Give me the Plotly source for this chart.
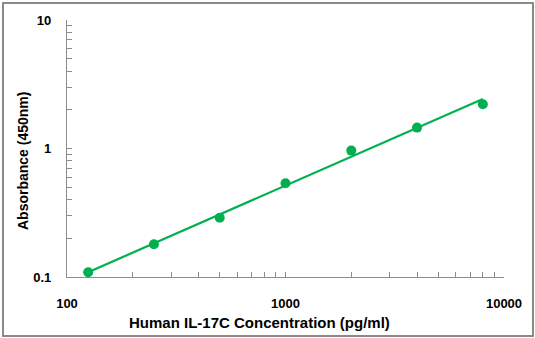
import plotly.graph_objects as go

# Standard curve: concentration (pg/ml) vs absorbance at 450 nm
concentration = [125, 250, 500, 1000, 2000, 4000, 8000]
absorbance = [0.109, 0.180, 0.289, 0.537, 0.963, 1.454, 2.21]

# Fitted curve endpoints (log-log linear)
fit_x = [125, 8000]
fit_y = [0.109, 2.43]

x_ticks = [100, 1000, 10000]
y_ticks = [0.1, 1, 10]
x_minor = [200, 300, 400, 500, 600, 700, 800, 900,
           2000, 3000, 4000, 5000, 6000, 7000, 8000, 9000]
y_minor = [0.2, 0.3, 0.4, 0.5, 0.6, 0.7, 0.8, 0.9,
           2, 3, 4, 5, 6, 7, 8, 9]

GREEN = "#00B050"
AXIS = "#8c8c8c"
FONT = "Liberation Sans, Arial, sans-serif"

fig = go.Figure()
fig.add_trace(go.Scatter(
    x=fit_x, y=fit_y, mode="lines",
    line=dict(color=GREEN, width=2.2), hoverinfo="skip", showlegend=False,
))
fig.add_trace(go.Scatter(
    x=concentration, y=absorbance, mode="markers",
    marker=dict(color=GREEN, size=10), showlegend=False,
))

axis_common = dict(
    type="log", showgrid=False, zeroline=False, showline=True,
    linecolor=AXIS, linewidth=1.3, ticks="inside", ticklen=5,
    tickcolor=AXIS, tickwidth=1,
    tickfont=dict(family=FONT, size=13, color="black", weight="bold"),
)

fig.update_xaxes(
    range=[2, 4], tickvals=x_ticks, ticktext=[str(v) for v in x_ticks],
    minor=dict(tickvals=x_minor, ticks="inside", ticklen=5, tickcolor=AXIS,
               tickwidth=1, showgrid=False),
    ticklabelstandoff=14, **axis_common,
)
fig.update_yaxes(
    range=[-1, 1], tickvals=y_ticks, ticktext=["0.1", "1", "10"],
    minor=dict(tickvals=y_minor, ticks="inside", ticklen=5, tickcolor=AXIS,
               tickwidth=1, showgrid=False),
    ticklabelstandoff=12, **axis_common,
)

L, R, T, B = 67, 31, 20, 61
W, H = 535, 338
pw, ph = W - L - R, H - T - B


def px_to_paper_x(px):
    return (px - L) / pw


def px_to_paper_y(py):
    return (H - B - py) / ph


fig.add_annotation(
    text="Human IL-17C Concentration (pg/ml)", xref="paper", yref="paper",
    x=px_to_paper_x(259), y=px_to_paper_y(322), showarrow=False,
    font=dict(family=FONT, size=15, color="black", weight="bold"),
    xanchor="center", yanchor="middle",
)
fig.add_annotation(
    text="Absorbance (450nm)", xref="paper", yref="paper",
    x=px_to_paper_x(22.5), y=px_to_paper_y(161.5), showarrow=False, textangle=-90,
    font=dict(family=FONT, size=14, color="black", weight="bold"),
    xanchor="center", yanchor="middle",
)

# Outer frame around the whole chart
fig.add_shape(
    type="rect", xref="paper", yref="paper",
    x0=px_to_paper_x(3), x1=px_to_paper_x(533),
    y0=px_to_paper_y(336), y1=px_to_paper_y(3),
    line=dict(color="#8a8a8a", width=2), layer="below",
)

fig.update_layout(
    width=W, height=H, margin=dict(l=L, r=R, t=T, b=B),
    paper_bgcolor="white", plot_bgcolor="white",
)

fig.write_html("out.html")
